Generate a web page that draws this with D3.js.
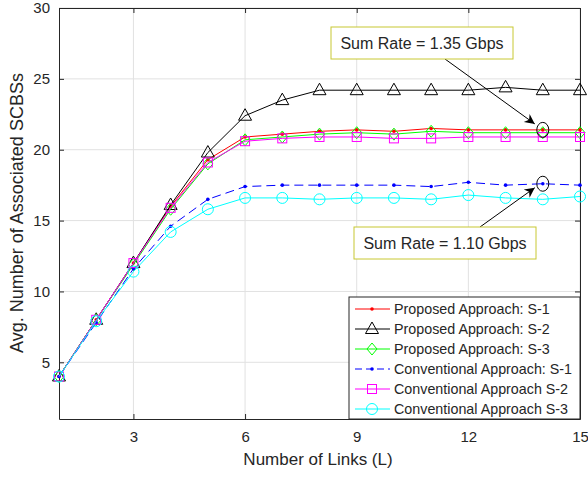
<!DOCTYPE html>
<html>
<head>
<meta charset="UTF-8">
<script src="https://cdn.jsdelivr.net/npm/d3@7"></script>
<style>
  body { margin: 0; background: #fff; }
  svg text { font-family: "Liberation Sans", Arial, sans-serif; fill: #262626; }
</style>
</head>
<body>
<script>
// data
var links = [1,2,3,4,5,6,7,8,9,10,11,12,13,14,15];
var propS1 = [4, 8, 12, 16, 19.3, 20.9, 21.1, 21.3, 21.4, 21.3, 21.5, 21.4, 21.4, 21.4, 21.4];
var propS2 = [4, 8, 12, 16.1, 19.8, 22.4, 23.5, 24.2, 24.2, 24.2, 24.2, 24.2, 24.4, 24.2, 24.2];
var propS3 = [4, 8, 11.9, 15.8, 19.0, 20.7, 20.9, 21.1, 21.2, 21.1, 21.3, 21.2, 21.2, 21.2, 21.2];
var convS1 = [4, 7.8, 11.6, 14.6, 16.5, 17.4, 17.5, 17.5, 17.5, 17.5, 17.4, 17.7, 17.5, 17.6, 17.5];
var convS2 = [4, 8, 12, 15.9, 19.1, 20.6, 20.8, 20.9, 20.9, 20.8, 20.8, 20.9, 20.9, 20.9, 20.9];
var convS3 = [4, 7.9, 11.4, 14.2, 15.8, 16.6, 16.6, 16.5, 16.6, 16.6, 16.5, 16.8, 16.6, 16.5, 16.7];
var names = ["Proposed Approach: S-1", "Proposed Approach: S-2", "Proposed Approach: S-3",
             "Conventional Approach: S-1", "Conventional Approach S-2", "Conventional Approach S-3"];
var xTicks = [3, 6, 9, 12, 15];
var yTicks = [5, 10, 15, 20, 25, 30];

var W = 588, H = 478;
var pL = 59, pR = 580, pT = 8, pB = 419;

var svg = d3.select("body").append("svg").attr("width", W).attr("height", H);

var x = d3.scaleLinear().domain([1, 15]).range([pL, pR]);
var y = d3.scaleLinear().domain([1, 30]).range([pB, pT]);

// grid
svg.append("g").selectAll("line").data(xTicks).enter().append("line")
    .attr("x1", d => x(d)).attr("x2", d => x(d)).attr("y1", pT).attr("y2", pB)
    .attr("stroke", "#e1e1e1").attr("stroke-width", 1);
svg.append("g").selectAll("line").data(yTicks).enter().append("line")
    .attr("x1", pL).attr("x2", pR).attr("y1", d => y(d)).attr("y2", d => y(d))
    .attr("stroke", "#e1e1e1").attr("stroke-width", 1);

// axes (ticks inward)
var xAx = svg.append("g").attr("transform", "translate(0," + pB + ")")
    .call(d3.axisBottom(x).tickValues(xTicks).tickSizeInner(-5).tickSizeOuter(0).tickPadding(12));
var xTop = svg.append("g").attr("transform", "translate(0," + pT + ")")
    .call(d3.axisTop(x).tickValues(xTicks).tickSizeInner(-5).tickSizeOuter(0).tickFormat(""));
var yAx = svg.append("g").attr("transform", "translate(" + pL + ",0)")
    .call(d3.axisLeft(y).tickValues(yTicks).tickSizeInner(-5).tickSizeOuter(0).tickPadding(9));
var yRight = svg.append("g").attr("transform", "translate(" + pR + ",0)")
    .call(d3.axisRight(y).tickValues(yTicks).tickSizeInner(-5).tickSizeOuter(0).tickFormat(""));
[xAx, xTop, yAx, yRight].forEach(function(g) {
    g.select(".domain").attr("stroke", "#262626").attr("stroke-width", 1);
    g.selectAll(".tick line").attr("stroke", "#262626");
    g.selectAll("text").attr("font-size", 15).attr("fill", "#262626")
        .style("font-family", "Liberation Sans, Arial, sans-serif");
});

// axis labels
svg.append("text").attr("x", 318).attr("y", 465).attr("text-anchor", "middle")
    .attr("font-size", 17).text("Number of Links (L)");
svg.append("text").attr("transform", "translate(23,213) rotate(-90)").attr("text-anchor", "middle")
    .attr("font-size", 18).text("Avg. Number of Associated SCBSs");

// series
var series = [
    {v: propS1, c: "#ff0000", m: "dot", dash: null},
    {v: propS2, c: "#000000", m: "tri", dash: null},
    {v: propS3, c: "#00ff00", m: "dia", dash: null},
    {v: convS1, c: "#0000ff", m: "dot", dash: "9,5"},
    {v: convS2, c: "#ff00ff", m: "sq", dash: null},
    {v: convS3, c: "#00ffff", m: "circ", dash: null}
];

function marker(g, type, c) {
    if (type === "dot") {
        g.append("circle").attr("r", 1.8).attr("fill", c);
    } else if (type === "tri") {
        g.append("path").attr("d", "M0,-7L6.5,4.5L-6.5,4.5Z").attr("fill", "none").attr("stroke", c).attr("stroke-width", 1);
    } else if (type === "dia") {
        g.append("path").attr("d", "M0,-6L5,0L0,6L-5,0Z").attr("fill", "none").attr("stroke", c).attr("stroke-width", 1);
    } else if (type === "sq") {
        g.append("rect").attr("x", -4.5).attr("y", -4.5).attr("width", 9).attr("height", 9)
            .attr("fill", "none").attr("stroke", c).attr("stroke-width", 1);
    } else if (type === "circ") {
        g.append("circle").attr("r", 5.5).attr("fill", "none").attr("stroke", c).attr("stroke-width", 1);
    }
}

var line = d3.line().x((d, i) => x(links[i])).y(d => y(d));
series.forEach(function(s) {
    svg.append("path").datum(s.v).attr("d", line).attr("fill", "none")
        .attr("stroke", s.c).attr("stroke-width", 1)
        .attr("stroke-dasharray", s.dash);
    s.v.forEach(function(d, i) {
        var g = svg.append("g").attr("transform", "translate(" + x(links[i]) + "," + y(d) + ")");
        marker(g, s.m, s.c);
    });
});

// annotations
var defs = svg.append("defs");
defs.append("marker").attr("id", "arr").attr("viewBox", "0 0 10 10").attr("refX", 10).attr("refY", 5)
    .attr("markerWidth", 16).attr("markerHeight", 10).attr("markerUnits", "userSpaceOnUse").attr("orient", "auto")
    .append("path").attr("d", "M0,0L10,5L0,10L3,5Z").attr("fill", "#000");

function note(bx, by, txt, fromX, fromY, px, py) {
    svg.append("line").attr("x1", fromX).attr("y1", fromY).attr("x2", x(px) - 8).attr("y2", y(py) + (fromY > y(py) ? 4 : -6))
        .attr("stroke", "#000").attr("stroke-width", 1).attr("marker-end", "url(#arr)");
    svg.append("ellipse").attr("cx", x(px)).attr("cy", y(py)).attr("rx", 6).attr("ry", 7.5)
        .attr("fill", "none").attr("stroke", "#000").attr("stroke-width", 1);
    svg.append("rect").attr("x", bx).attr("y", by).attr("width", 182).attr("height", 32)
        .attr("fill", "#fff").attr("stroke", "#c8c832").attr("stroke-width", 1);
    svg.append("text").attr("x", bx + 91).attr("y", by + 22).attr("text-anchor", "middle")
        .attr("font-size", 16).text(txt);
}
note(331, 27, "Sum Rate = 1.35 Gbps", 445, 59, 14, 21.4);
note(354, 227, "Sum Rate = 1.10 Gbps", 480, 227, 14, 17.6);

// legend
var lg = svg.append("g");
lg.append("rect").attr("x", 349).attr("y", 297).attr("width", 231).attr("height", 122)
    .attr("fill", "#fff").attr("stroke", "#262626").attr("stroke-width", 1);
series.forEach(function(s, i) {
    var yy = 309 + i * 20;
    lg.append("line").attr("x1", 355).attr("x2", 390).attr("y1", yy).attr("y2", yy)
        .attr("stroke", s.c).attr("stroke-width", 1).attr("stroke-dasharray", s.dash ? "7,4" : null);
    var g = lg.append("g").attr("transform", "translate(372," + yy + ")");
    marker(g, s.m, s.c);
    lg.append("text").attr("x", 394).attr("y", yy + 5).attr("font-size", 14.3).text(names[i]);
});
</script>
</body>
</html>
